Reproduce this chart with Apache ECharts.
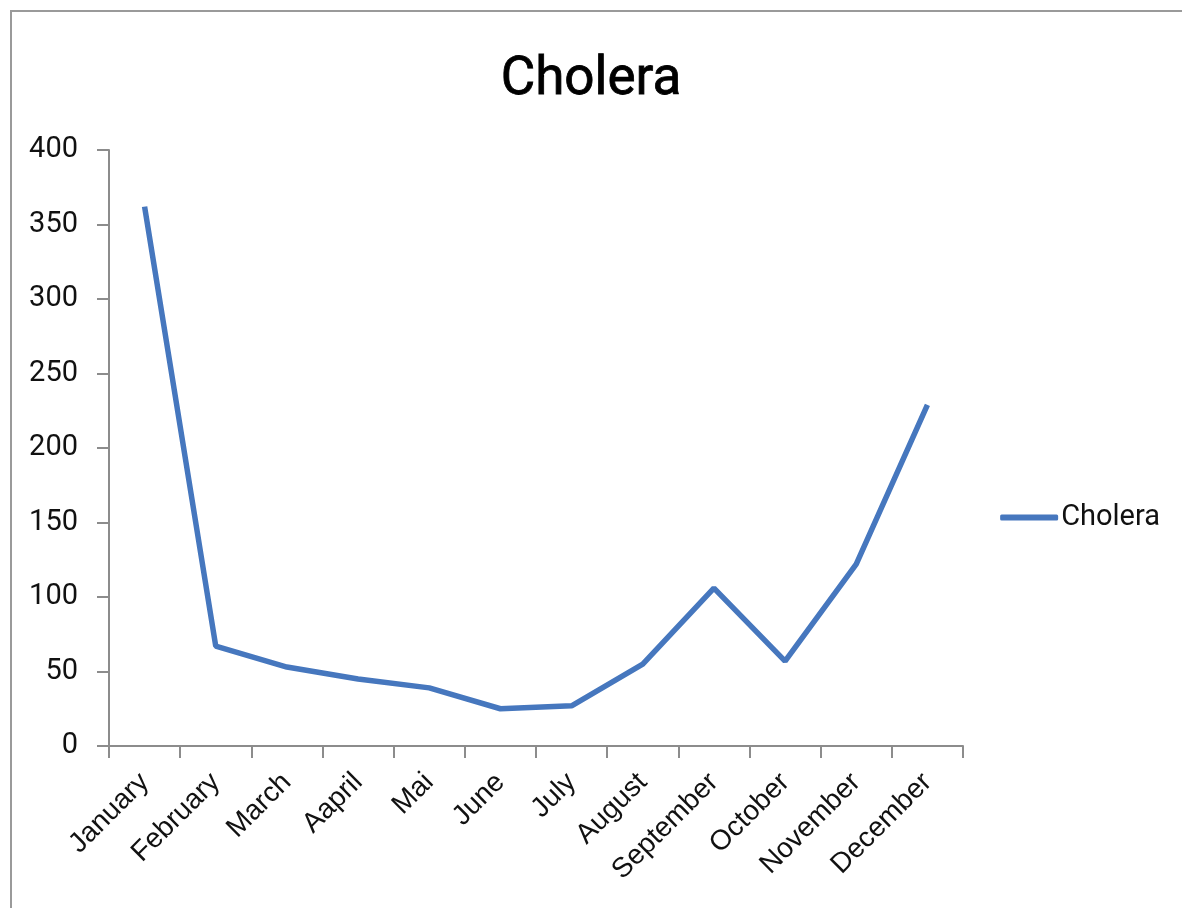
<!DOCTYPE html>
<html>
<head>
<meta charset="utf-8">
<script src="https://cdn.jsdelivr.net/npm/echarts@6/dist/echarts.min.js"></script>
<style>
  html, body { margin: 0; padding: 0; background: #ffffff; }
  #chart { width: 1182px; height: 908px; }
</style>
</head>
<body>
<div id="chart"></div>
<script>
// Monthly cholera cases
const months = ['January', 'February', 'March', 'Aapril', 'Mai', 'June', 'July',
                'August', 'September', 'October', 'November', 'December'];
const cholera = [362, 67, 53, 45, 39, 25, 27, 55, 106, 57, 122, 229];
const yTicks = { min: 0, max: 400, interval: 50 };

const chart = echarts.init(document.getElementById('chart'));
chart.setOption({
  backgroundColor: '#ffffff',
  animation: false,
  graphic: [{
    type: 'rect',
    shape: { x: 11, y: 11, width: 1200, height: 920 },
    style: { fill: 'none', stroke: '#9a9a9a', lineWidth: 2 },
    silent: true
  }],
  title: {
    text: 'Cholera',
    left: 'center',
    top: 49,
    textStyle: {
      fontFamily: 'Roboto', fontSize: 53, fontWeight: 'normal', color: '#000000',
      textBorderColor: '#000000', textBorderWidth: 0.8
    }
  },
  legend: {
    right: 17,
    top: 498,
    itemWidth: 58,
    itemHeight: 6,
    itemGap: 0,
    icon: 'roundRect',
    textStyle: { fontFamily: 'Roboto', fontSize: 29, color: '#111111', padding: [0, 0, 0, -2] },
    data: ['Cholera']
  },
  grid: { left: 109, right: 219, top: 150, bottom: 162, containLabel: false },
  xAxis: {
    type: 'category',
    data: months,
    boundaryGap: true,
    axisLine: { lineStyle: { color: '#8c8c8c', width: 2 } },
    axisTick: { show: true, length: 12, inside: false, lineStyle: { color: '#8c8c8c', width: 2 } },
    axisLabel: {
      rotate: 45,
      interval: 0,
      margin: 32,
      fontFamily: 'Liberation Sans',
      fontSize: 28,
      color: '#111111'
    },
    splitLine: { show: false }
  },
  yAxis: {
    type: 'value',
    min: yTicks.min,
    max: yTicks.max,
    interval: yTicks.interval,
    axisLine: { show: true, lineStyle: { color: '#8c8c8c', width: 2 } },
    axisTick: { show: true, length: 12, lineStyle: { color: '#8c8c8c', width: 2 } },
    axisLabel: { margin: 31, fontFamily: 'Roboto', fontSize: 29, color: '#111111' },
    splitLine: { show: false }
  },
  series: [{
    name: 'Cholera',
    type: 'line',
    data: cholera,
    symbol: 'none',
    lineStyle: { color: '#4677be', width: 5.5 },
    itemStyle: { color: '#4677be' }
  }]
});
</script>
</body>
</html>
